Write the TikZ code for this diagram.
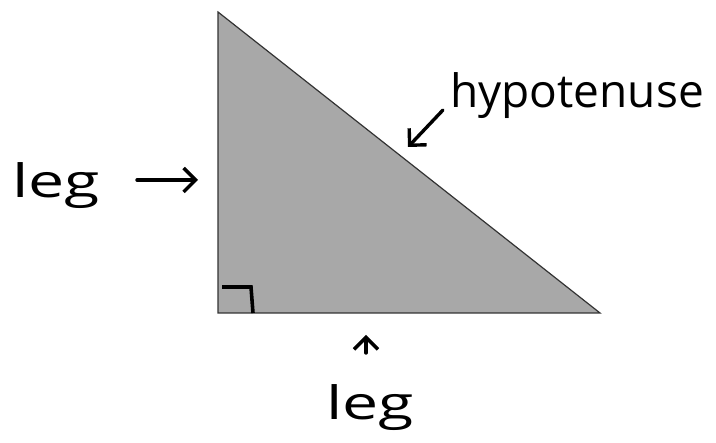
\documentclass[tikz,border=0pt]{standalone}
\usepackage{fontspec}
\usetikzlibrary{arrows.meta}
\newfontfamily\handfont{Open Sans}
\newfontfamily\handwide[FakeStretch=1.4]{Open Sans}
\tikzset{
  pointer/.style={-{Straight Barb[length=12pt,width=24pt,line width=3.4pt]},line width=3.4pt,line cap=round},
  lbl/.style={inner sep=0pt,anchor=base west,font=\handfont\fontsize{46}{46}\selectfont},
  lblwide/.style={lbl,font=\handwide\fontsize{46}{46}\selectfont}
}
\begin{document}
\begin{tikzpicture}[x=1pt,y=-1pt]
    \useasboundingbox (0,0) rectangle (716,443);
    % triangle
    \coordinate (top) at (218,12);
    \coordinate (rt) at (218,313);
    \coordinate (far) at (600,313);
    \filldraw[fill=black!34,draw=black!80,line width=1.2pt] (top) -- (rt) -- (far) -- cycle;
    \draw[line width=3.6pt] (222,287) -- (251,287) -- (253,313);
    % labels
    \node[lblwide] (legL) at (12,198) {leg};
    \node[lbl] (hyp) at (450,108) {hypotenuse};
    \node[lblwide] (legB) at (326,420) {leg};
    \coordinate (legLtail) at (137,180);
    \coordinate (legLtip) at (198,180);
    \coordinate (hyptail) at (443,110);
    \coordinate (hyptip) at (408,147);
    \coordinate (legBtail) at (366,353);
    \coordinate (legBtip) at (366,335);
    \draw[pointer] (legLtail) -- (legLtip);
    \draw[pointer] (hyptail) -- (hyptip);
    \draw[pointer] (legBtail) -- (legBtip);
\end{tikzpicture}
\end{document}
